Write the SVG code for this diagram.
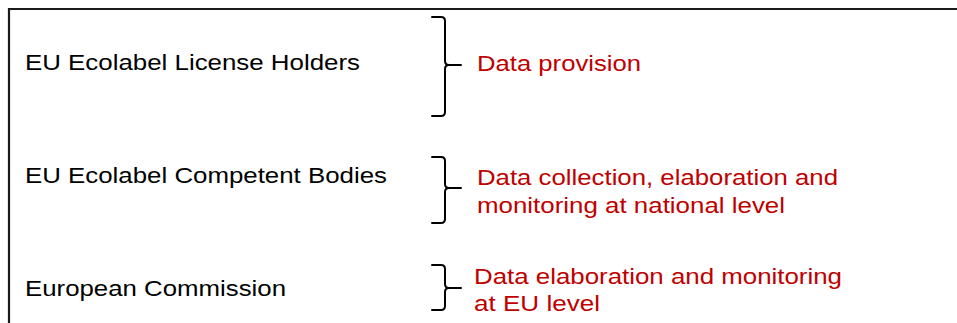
<svg xmlns="http://www.w3.org/2000/svg" width="957" height="323" viewBox="0 0 957 323">
  <style>
    .frame { fill: none; stroke: #1a1a1a; stroke-width: 2.2; }
    .brace { fill: none; stroke: #000; stroke-width: 2; stroke-linejoin: round; stroke-linecap: round; }
    .actor { font-family: "Liberation Sans", Arial, sans-serif; font-size: 21.5px; fill: #000; }
    .role { font-family: "Liberation Sans", Arial, sans-serif; font-size: 21.5px; fill: #c00000; }
  </style>
  <rect width="957" height="323" fill="#fff"/>
  <!-- open frame: top and left edges -->
  <path class="frame" d="M9,323 V9 H957"/>

  <g id="actor-license-holders">
    <text class="actor" x="25" y="70" textLength="335" lengthAdjust="spacingAndGlyphs">EU Ecolabel License Holders</text>
  </g>
  <g id="actor-competent-bodies">
    <text class="actor" x="25" y="183" textLength="362" lengthAdjust="spacingAndGlyphs">EU Ecolabel Competent Bodies</text>
  </g>
  <g id="actor-commission">
    <text class="actor" x="25" y="296" textLength="261" lengthAdjust="spacingAndGlyphs">European Commission</text>
  </g>

  <g id="connectors">
    <path class="brace" d="M432,17 H441 Q445,17 445,21 V61 Q445,65 449,65 H461 M449,65 Q445,65 445,69 V112 Q445,116 441,116 H432"/>
    <path class="brace" d="M432,157 H441 Q445,157 445,161 V184 Q445,188 449,188 H461 M449,188 Q445,188 445,192 V219 Q445,223 441,223 H432"/>
    <path class="brace" d="M432,265 H441 Q445,265 445,269 V284 Q445,288 449,288 H461 M449,288 Q445,288 445,292 V306 Q445,310 441,310 H432"/>
  </g>

  <g id="role-provision">
    <text class="role" x="477" y="71" textLength="164" lengthAdjust="spacingAndGlyphs">Data provision</text>
  </g>
  <g id="role-national">
    <text class="role" x="477" y="185" textLength="361" lengthAdjust="spacingAndGlyphs">Data collection, elaboration and</text>
    <text class="role" x="477" y="213" textLength="308" lengthAdjust="spacingAndGlyphs">monitoring at national level</text>
  </g>
  <g id="role-eu">
    <text class="role" x="474" y="284" textLength="368" lengthAdjust="spacingAndGlyphs">Data elaboration and monitoring</text>
    <text class="role" x="474" y="311" textLength="126" lengthAdjust="spacingAndGlyphs">at EU level</text>
  </g>
</svg>
